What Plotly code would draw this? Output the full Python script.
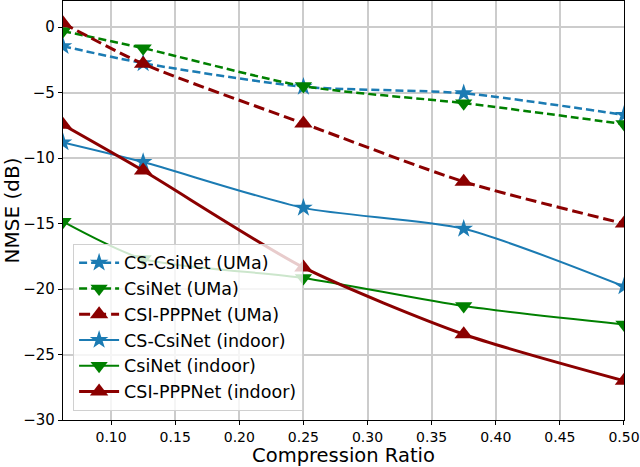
import plotly.graph_objects as go

# compression ratios
cr = [0.0625, 0.125, 0.25, 0.375, 0.5]
x_ticks = [0.10, 0.15, 0.20, 0.25, 0.30, 0.35, 0.40, 0.45, 0.50]
x_tick_labels = ["0.10", "0.15", "0.20", "0.25", "0.30", "0.35", "0.40", "0.45", "0.50"]

# NMSE (dB) per method / scenario
cs_csinet_uma = [-1.45, -2.75, -4.55, -5.05, -6.7]
csinet_uma = [-0.3, -1.6, -4.5, -5.8, -7.4]
pppnet_uma = [0.3, -2.8, -7.35, -11.8, -15.0]
cs_csinet_indoor = [-8.8, -10.3, -13.8, -15.4, -19.8]
csinet_indoor = [-14.85, -17.7, -19.15, -21.3, -22.7]
pppnet_indoor = [-7.45, -10.95, -18.35, -23.45, -27.0]

blue = "#1b7bb3"
green = "#008000"
red = "#8b0000"

series = [
    ("CS-CsiNet (UMa)", cs_csinet_uma, blue, "8px,4px", 2.5, "star", 14),
    ("CsiNet (UMa)", csinet_uma, green, "8px,4px", 2.5, "triangle-down", 15),
    ("CSI-PPPNet (UMa)", pppnet_uma, red, "11px,5px", 3, "triangle-up", 16),
    ("CS-CsiNet (indoor)", cs_csinet_indoor, blue, "solid", 2, "star", 14),
    ("CsiNet (indoor)", csinet_indoor, green, "solid", 2, "triangle-down", 15),
    ("CSI-PPPNet (indoor)", pppnet_indoor, red, "solid", 3, "triangle-up", 16),
]

fig = go.Figure()
for name, y, col, dash, w, sym, sz in series:
    fig.add_trace(go.Scatter(
        x=cr, y=y, name=name, mode="lines+markers",
        line=dict(color=col, dash=dash, width=w, shape="spline", smoothing=0.7),
        marker=dict(symbol=sym, size=sz, color=col),
    ))

fig.update_layout(
    width=640, height=467,
    margin=dict(l=63, r=16, t=1, b=47),
    plot_bgcolor="white", paper_bgcolor="white",
    font=dict(family="DejaVu Sans", size=15, color="black"),
    legend=dict(
        x=0.018, y=0.022, xanchor="left", yanchor="bottom",
        bgcolor="rgba(255,255,255,0.8)", bordercolor="#d0d0d0", borderwidth=1,
        font=dict(size=17.5), tracegroupgap=0, itemwidth=40,
    ),
)
fig.update_xaxes(
    range=[0.0625, 0.50001], tickmode="array", tickvals=x_ticks, ticktext=x_tick_labels,
    tickfont=dict(size=14),
    title=dict(text="Compression Ratio", font=dict(size=19.5), standoff=5),
    showgrid=True, gridcolor="#cccccc", gridwidth=1.5,
    showline=True, linecolor="black", linewidth=1.2, mirror=True,
    ticks="outside", ticklen=4, tickcolor="black", zeroline=False,
)
fig.update_yaxes(
    range=[-30, 2], tick0=0, dtick=5,
    title=dict(text="NMSE (dB)", font=dict(size=20), standoff=4),
    showgrid=True, gridcolor="#cccccc", gridwidth=1.5,
    showline=True, linecolor="black", linewidth=1.2, mirror=True,
    ticks="outside", ticklen=4, tickcolor="black", zeroline=False,
)

fig.write_html("out.html", config={"displayModeBar": False},
               post_script="document.body.style.margin='0px';")
